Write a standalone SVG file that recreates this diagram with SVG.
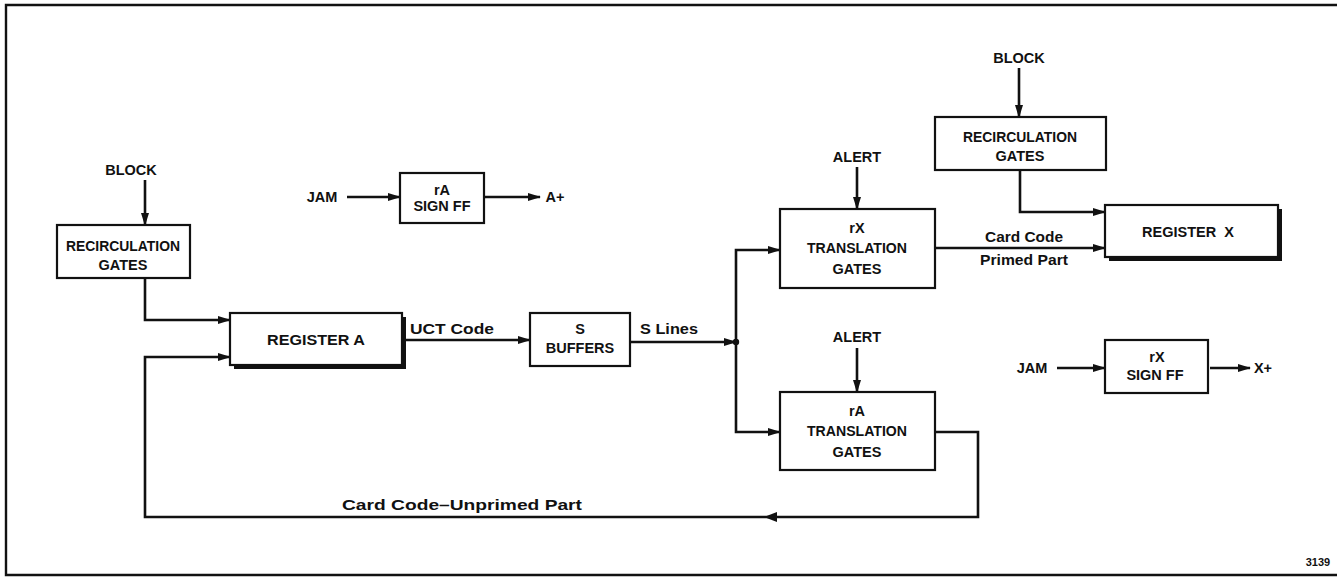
<svg xmlns="http://www.w3.org/2000/svg" width="1337" height="578" viewBox="0 0 1337 578">
<style>
.box{fill:#fff;stroke:#111;stroke-width:2.2}
.sh{fill:#111}
.ln{fill:none;stroke:#111;stroke-width:2.6;stroke-linejoin:miter}
.t{font-family:"Liberation Sans",Arial,sans-serif;font-weight:bold;font-size:14.5px;fill:#111;text-anchor:middle}
.l{font-family:"Liberation Sans",Arial,sans-serif;font-weight:bold;font-size:15px;fill:#111;text-anchor:start}
.frame{fill:none;stroke:#111;stroke-width:2.4}
</style>
<defs>
<marker id="ar" markerUnits="userSpaceOnUse" markerWidth="13" markerHeight="10" refX="12" refY="5" orient="auto">
<path d="M0,1 L13,5 L0,9 z" fill="#111"/>
</marker>
</defs>
<rect width="1337" height="578" fill="#fff"/>
<path class="frame" d="M1337,5 H6 V575 H1337"/>

<g id="connectors">
<path class="ln" d="M145,180 V225" marker-end="url(#ar)"/>
<path class="ln" d="M145,278 V320 H230" marker-end="url(#ar)"/>
<path class="ln" d="M935,432 H978 V517 H145 V357 H230" marker-end="url(#ar)"/>
<path d="M764,517 L777,512 L777,522 z" fill="#111"/>
<path class="ln" d="M402,340 H530" marker-end="url(#ar)"/>
<path class="ln" d="M630,342 H736" marker-end="url(#ar)"/>
<circle cx="736" cy="342" r="3.2" fill="#111"/>
<path class="ln" d="M736,342 V250 H780" marker-end="url(#ar)"/>
<path class="ln" d="M736,342 V432 H780" marker-end="url(#ar)"/>
<path class="ln" d="M857,167 V209" marker-end="url(#ar)"/>
<path class="ln" d="M857,348 V392" marker-end="url(#ar)"/>
<path class="ln" d="M935,248 H1105" marker-end="url(#ar)"/>
<path class="ln" d="M1019,68 V117" marker-end="url(#ar)"/>
<path class="ln" d="M1020,170 V212 H1105" marker-end="url(#ar)"/>
<path class="ln" d="M347,197 H400" marker-end="url(#ar)"/>
<path class="ln" d="M484,197 H540" marker-end="url(#ar)"/>
<path class="ln" d="M1057,368 H1105" marker-end="url(#ar)"/>
<path class="ln" d="M1210,368 H1250" marker-end="url(#ar)"/>
</g>

<g id="labels">
<text class="t" x="131" y="175">BLOCK</text>
<text class="t" x="1019" y="63">BLOCK</text>
<text class="t" x="857" y="162">ALERT</text>
<text class="t" x="857" y="342">ALERT</text>
<text class="t" x="322" y="202">JAM</text>
<text class="t" x="555" y="202">A+</text>
<text class="t" x="1032" y="373">JAM</text>
<text class="t" x="1263" y="373">X+</text>
<text class="l" x="410" y="334" textLength="84" lengthAdjust="spacingAndGlyphs">UCT Code</text>
<text class="l" x="640" y="334" textLength="58" lengthAdjust="spacingAndGlyphs">S Lines</text>
<text class="l" x="985" y="242" textLength="78" lengthAdjust="spacingAndGlyphs">Card Code</text>
<text class="l" x="980" y="265" textLength="88" lengthAdjust="spacingAndGlyphs">Primed Part</text>
<text class="l" x="342" y="510" textLength="240" lengthAdjust="spacingAndGlyphs">Card Code–Unprimed Part</text>
<text class="t" x="1318" y="566" style="font-size:11px">3139</text>
</g>

<g id="recirc-left">
<rect class="box" x="57" y="225" width="133" height="53"/>
<text class="t" x="123" y="251" textLength="114" lengthAdjust="spacingAndGlyphs">RECIRCULATION</text>
<text class="t" x="123" y="270">GATES</text>
</g>

<g id="register-a">
<rect class="sh" x="234" y="317" width="172" height="52"/>
<rect class="box" x="230" y="313" width="172" height="52"/>
<text class="t" x="316" y="345" textLength="98" lengthAdjust="spacingAndGlyphs">REGISTER A</text>
</g>

<g id="s-buffers">
<rect class="box" x="530" y="313" width="100" height="53"/>
<text class="t" x="580" y="334">S</text>
<text class="t" x="580" y="353">BUFFERS</text>
</g>

<g id="ra-sign-ff">
<rect class="box" x="400" y="173" width="84" height="50"/>
<text class="t" x="442" y="195">rA</text>
<text class="t" x="442" y="211">SIGN FF</text>
</g>

<g id="rx-translation">
<rect class="box" x="780" y="209" width="155" height="79"/>
<text class="t" x="857" y="233">rX</text>
<text class="t" x="857" y="253" textLength="100" lengthAdjust="spacingAndGlyphs">TRANSLATION</text>
<text class="t" x="857" y="274">GATES</text>
</g>

<g id="ra-translation">
<rect class="box" x="780" y="392" width="155" height="78"/>
<text class="t" x="857" y="416">rA</text>
<text class="t" x="857" y="436" textLength="100" lengthAdjust="spacingAndGlyphs">TRANSLATION</text>
<text class="t" x="857" y="457">GATES</text>
</g>

<g id="recirc-right">
<rect class="box" x="935" y="117" width="171" height="53"/>
<text class="t" x="1020" y="142" textLength="114" lengthAdjust="spacingAndGlyphs">RECIRCULATION</text>
<text class="t" x="1020" y="161">GATES</text>
</g>

<g id="register-x">
<rect class="sh" x="1109" y="209" width="173" height="52"/>
<rect class="box" x="1105" y="205" width="173" height="52"/>
<text class="t" x="1188" y="237" xml:space="preserve">REGISTER  X</text>
</g>

<g id="rx-sign-ff">
<rect class="box" x="1105" y="340" width="103" height="53"/>
<text class="t" x="1157" y="362">rX</text>
<text class="t" x="1155" y="380">SIGN FF</text>
</g>
</svg>
